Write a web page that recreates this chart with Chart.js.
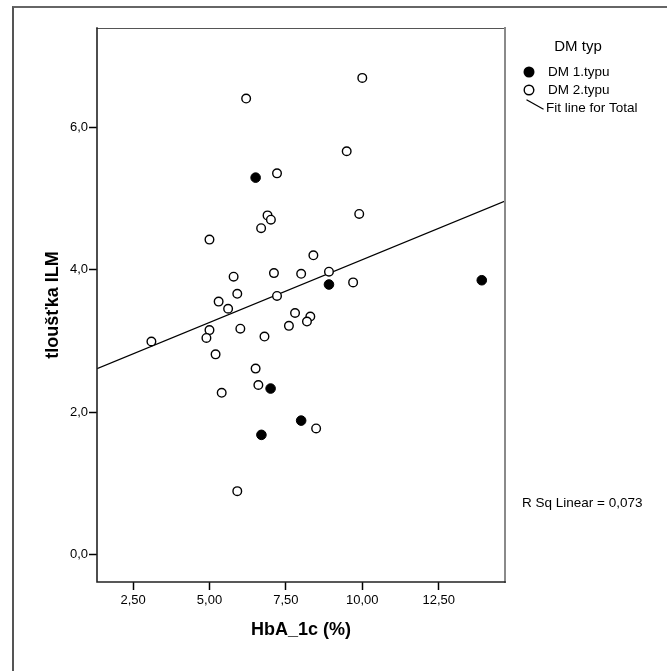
<!DOCTYPE html>
<html>
<head>
<meta charset="utf-8">
<script src="https://cdn.jsdelivr.net/npm/chart.js@4/dist/chart.umd.min.js"></script>
<style>
  body { margin: 0; background: #fff; overflow: hidden; }
  #wrap { position: relative; width: 667px; height: 671px; }
  #chart { position: absolute; left: 0; top: 0; }
  #frame { position: absolute; left: 12px; top: 6px; width: 700px; height: 700px;
           border-left: 2px solid #555; border-top: 2px solid #666; pointer-events: none; }
</style>
</head>
<body>
<div id="wrap">
  <canvas id="chart" width="667" height="671"></canvas>
  <div id="frame"></div>
</div>
<script>
// DM 1.typu (filled markers)
var type1X = [6.51, 8.91, 13.91, 7.00, 8.00, 6.70];
var type1Y = [5.29, 3.79, 3.85, 2.33, 1.88, 1.68];

// DM 2.typu (open markers)
var type2X = [10.00, 6.20, 9.49, 7.21, 9.90, 6.90, 7.01, 6.69, 5.00, 8.40,
              7.11, 8.00, 8.91, 9.70, 5.79, 5.91, 5.30, 5.61, 7.21, 7.80,
              8.30, 8.19, 7.60, 5.00, 6.01, 3.10, 4.90, 6.80, 5.20, 6.51,
              6.60, 5.40, 8.49, 5.91];
var type2Y = [6.69, 6.40, 5.66, 5.35, 4.78, 4.76, 4.70, 4.58, 4.42, 4.20,
              3.95, 3.94, 3.97, 3.82, 3.90, 3.66, 3.55, 3.45, 3.63, 3.39,
              3.34, 3.27, 3.21, 3.15, 3.17, 2.99, 3.04, 3.06, 2.81, 2.61,
              2.38, 2.27, 1.77, 0.89];

// fit line for total (end points)
var fitX = [1.32, 14.67];
var fitY = [2.61, 4.96];

var xTicks = [2.5, 5, 7.5, 10, 12.5];
var yTicks = [0, 2, 4, 6];
var xRange = [1.32, 14.67];
var yRange = [-0.385, 7.39];

var rSqText = "R Sq Linear = 0,073";

function pts(xs, ys) {
    return xs.map(function(x, i) { return {x: x, y: ys[i]}; });
}

var FONT = "Arial, 'Liberation Sans', sans-serif";

var spssPlugin = {
    id: 'spss',
    afterDraw: function(chart) {
        var ctx = chart.ctx;
        var a = chart.chartArea;
        ctx.save();
        // plot frame
        ctx.lineCap = 'square';
        ctx.strokeStyle = '#555';
        ctx.lineWidth = 1;
        ctx.beginPath(); ctx.moveTo(a.left, a.top + 0.5); ctx.lineTo(a.right, a.top + 0.5); ctx.stroke();
        ctx.strokeStyle = '#8a8a8a';
        ctx.lineWidth = 2;
        ctx.beginPath(); ctx.moveTo(a.right, a.top); ctx.lineTo(a.right, a.bottom); ctx.stroke();
        ctx.strokeStyle = '#222';
        ctx.lineWidth = 1.6;
        ctx.beginPath(); ctx.moveTo(a.left, a.top); ctx.lineTo(a.left, a.bottom); ctx.lineTo(a.right, a.bottom); ctx.stroke();

        // legend
        ctx.fillStyle = '#000';
        ctx.textBaseline = 'middle';
        ctx.font = '15px ' + FONT;
        ctx.textAlign = 'center';
        ctx.fillText('DM typ', 578, 47);

        ctx.textAlign = 'left';
        ctx.font = '13.5px ' + FONT;
        ctx.beginPath(); ctx.arc(529, 72, 5.5, 0, Math.PI * 2); ctx.fill();
        ctx.fillText('DM 1.typu', 548, 72);

        ctx.lineWidth = 1.4;
        ctx.strokeStyle = '#000';
        ctx.beginPath(); ctx.arc(529, 90, 4.8, 0, Math.PI * 2); ctx.stroke();
        ctx.fillText('DM 2.typu', 548, 90);

        ctx.lineWidth = 1.2;
        ctx.beginPath(); ctx.moveTo(527, 100); ctx.lineTo(543, 109); ctx.stroke();
        ctx.fillText('Fit line for Total', 546, 108);

        ctx.fillText(rSqText, 522, 503);
        ctx.restore();
    }
};

var config = {
    type: 'scatter',
    data: {
        datasets: [{
            label: 'DM 1.typu',
            data: pts(type1X, type1Y),
            pointStyle: 'circle',
            pointRadius: 4.8,
            backgroundColor: '#000',
            borderColor: '#000',
            borderWidth: 1
        }, {
            label: 'DM 2.typu',
            data: pts(type2X, type2Y),
            pointStyle: 'circle',
            pointRadius: 4.3,
            backgroundColor: '#fff',
            borderColor: '#000',
            borderWidth: 1.4
        }, {
            label: 'Fit line for Total',
            data: pts(fitX, fitY),
            showLine: true,
            pointRadius: 0,
            borderColor: '#000',
            borderWidth: 1.2,
            order: 5
        }]
    },
    options: {
        responsive: false,
        animation: false,
        layout: { padding: { top: 28, right: 162, left: 0, bottom: 0 } },
        plugins: {
            legend: { display: false },
            tooltip: { enabled: false }
        },
        scales: {
            x: {
                type: 'linear',
                min: xRange[0],
                max: xRange[1],
                afterBuildTicks: function(scale) {
                    scale.ticks = xTicks.map(function(v) { return {value: v}; });
                },
                afterFit: function(scale) { scale.height = 89; },
                border: { display: false },
                grid: { drawOnChartArea: false, drawTicks: true, tickLength: 8, tickColor: '#000', tickWidth: 1.5 },
                ticks: {
                    color: '#000',
                    font: { family: FONT, size: 13 },
                    padding: 3,
                    maxRotation: 0,
                    callback: function(v) { return v.toFixed(2).replace('.', ','); }
                },
                title: {
                    display: true,
                    text: 'HbA_1c (%)',
                    color: '#000',
                    font: { family: FONT, size: 18, weight: 'bold' },
                    padding: { top: 0, bottom: 30 }
                }
            },
            y: {
                type: 'linear',
                min: yRange[0],
                max: yRange[1],
                afterBuildTicks: function(scale) {
                    scale.ticks = yTicks.map(function(v) { return {value: v}; });
                },
                afterFit: function(scale) { scale.width = 97; },
                border: { display: false },
                grid: { drawOnChartArea: false, drawTicks: true, tickLength: 8, tickColor: '#000', tickWidth: 1.5 },
                ticks: {
                    color: '#000',
                    font: { family: FONT, size: 13 },
                    padding: 1,
                    callback: function(v) { return v.toFixed(1).replace('.', ','); }
                },
                title: {
                    display: true,
                    text: 'tloušťka ILM',
                    color: '#000',
                    font: { family: FONT, size: 18, weight: 'bold' },
                    padding: { top: 42, bottom: 0 }
                }
            }
        }
    },
    plugins: [spssPlugin]
};

var ctx = document.getElementById('chart').getContext('2d');
var myChart = new Chart(ctx, config);
</script>
</body>
</html>
